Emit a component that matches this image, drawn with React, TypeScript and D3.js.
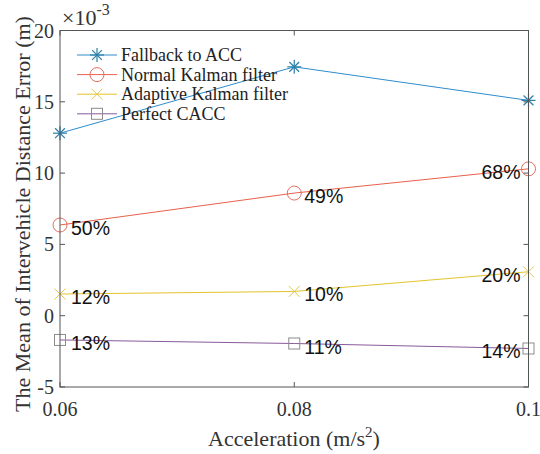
import React from "react";
import * as d3 from "d3";

const accel = [0.06, 0.08, 0.1];
const fallbackACC = [12.8, 17.45, 15.1];
const normalKF = [6.36, 8.6, 10.3];
const adaptiveKF = [1.52, 1.7, 3.08];
const perfectCACC = [-1.7, -1.95, -2.3];
const seriesNames = ["Fallback to ACC", "Normal Kalman filter", "Adaptive Kalman filter", "Perfect CACC"];
const seriesColors = ["#2f8ccc", "#e8604c", "#e3c42c", "#8a5a9a"];
const markerColors = ["#2a7fa8", "#e07060", "#e3c84a", "#8c8c8c"];
const markers = ["star", "circle", "x", "square"];
const improvementLabels = [
  ["50%", "49%", "68%"],
  ["12%", "10%", "20%"],
  ["13%", "11%", "14%"],
];
const xTicks = [0.06, 0.08, 0.1];
const xTickLabels = ["0.06", "0.08", "0.1"];
const yTicks = [-5, 0, 5, 10, 15, 20];

const W = 540, H = 454;
const m = { left: 60, right: 528.5, top: 30.5, bottom: 387 };

function Marker({ type, x, y, color }: { type: string; x: number; y: number; color: string }) {
  const s = 7;
  if (type === "star") {
    return (
      <g stroke={color} strokeWidth={1.2} fill="none">
        <line x1={x - s} y1={y} x2={x + s} y2={y} />
        <line x1={x} y1={y - s} x2={x} y2={y + s} />
        <line x1={x - s * 0.7} y1={y - s * 0.7} x2={x + s * 0.7} y2={y + s * 0.7} />
        <line x1={x - s * 0.7} y1={y + s * 0.7} x2={x + s * 0.7} y2={y - s * 0.7} />
      </g>
    );
  }
  if (type === "circle") return <circle cx={x} cy={y} r={7} stroke={color} strokeWidth={1} fill="none" />;
  if (type === "x") {
    const k = 5.5;
    return (
      <g stroke={color} strokeWidth={1} fill="none">
        <line x1={x - k} y1={y - k} x2={x + k} y2={y + k} />
        <line x1={x - k} y1={y + k} x2={x + k} y2={y - k} />
      </g>
    );
  }
  return <rect x={x - 5.5} y={y - 5.5} width={11} height={11} stroke={color} strokeWidth={1} fill="none" />;
}

export default function App() {
  const x = d3.scaleLinear().domain([0.06, 0.1]).range([m.left, m.right]);
  const y = d3.scaleLinear().domain([-5, 20]).range([m.bottom, m.top]);
  const all = [fallbackACC, normalKF, adaptiveKF, perfectCACC];
  const line = d3.line<number>().x((_, i) => x(accel[i])).y((d) => y(d));
  const tick = 5;
  const serif = "'Liberation Serif', 'Times New Roman', serif";
  const sans = "'Liberation Sans', Arial, sans-serif";

  return (
    <svg width={W} height={H} style={{ position: "absolute", left: 0, top: 0, background: "#fff" }}>
      <rect x={0} y={0} width={W} height={H} fill="#fff" />
      {all.map((s, si) => (
        <path key={si} d={line(s) || ""} fill="none" stroke={seriesColors[si]} strokeWidth={1} />
      ))}
      {all.map((s, si) =>
        s.map((v, i) => <Marker key={si + "-" + i} type={markers[si]} x={x(accel[i])} y={y(v)} color={markerColors[si]} />)
      )}
      {improvementLabels.map((row, ri) =>
        row.map((t, i) => {
          const v = all[ri + 1][i];
          const px = x(accel[i]);
          const isLast = i === accel.length - 1;
          const off = i === 0 ? 11 : 10;
          return (
            <text
              key={ri + "-" + i}
              x={isLast ? px - 8 : px + off}
              y={y(v) + 3}
              textAnchor={isLast ? "end" : "start"}
              dominantBaseline="central"
              fontFamily={sans}
              fontSize={19.5}
              fill="#111"
            >
              {t}
            </text>
          );
        })
      )}
      <rect x={m.left} y={m.top} width={m.right - m.left} height={m.bottom - m.top} fill="none" stroke="#555" strokeWidth={1} />
      {xTicks.map((t, i) => (
        <g key={"xt" + i}>
          <line x1={x(t)} x2={x(t)} y1={m.bottom} y2={m.bottom - tick} stroke="#555" />
          <line x1={x(t)} x2={x(t)} y1={m.top} y2={m.top + tick} stroke="#555" />
          <text x={x(t)} y={416} textAnchor="middle" fontFamily={serif} fontSize={20} fill="#333">
            {xTickLabels[i]}
          </text>
        </g>
      ))}
      {yTicks.map((t, i) => (
        <g key={"yt" + i}>
          <line x1={m.left} x2={m.left + tick} y1={y(t)} y2={y(t)} stroke="#555" />
          <line x1={m.right} x2={m.right - tick} y1={y(t)} y2={y(t)} stroke="#555" />
          <text x={54} y={y(t)} textAnchor="end" dominantBaseline="central" fontFamily={serif} fontSize={20} fill="#333">
            {t}
          </text>
        </g>
      ))}
      <text x={62} y={25} fontFamily={serif} fontSize={22} fill="#333">
        ×10<tspan dy={-10} fontSize={16}>-3</tspan>
      </text>
      <text x={294} y={446} textAnchor="middle" fontFamily={serif} fontSize={22} fill="#333">
        Acceleration (m/s<tspan dy={-9} fontSize={15}>2</tspan><tspan dy={9}>)</tspan>
      </text>
      <text
        transform={`translate(22,214) rotate(-90)`}
        textAnchor="middle"
        dominantBaseline="central"
        fontFamily={serif}
        fontSize={22}
        fill="#333"
      >
        The Mean of Intervehicle Distance Error (m)
      </text>
      {seriesNames.map((n, i) => {
        const ly = 55 + i * 19.6;
        return (
          <g key={"lg" + i}>
            <line x1={77} x2={117} y1={ly} y2={ly} stroke={seriesColors[i]} strokeWidth={1} />
            <Marker type={markers[i]} x={97} y={ly} color={markerColors[i]} />
            <text x={121} y={ly} dominantBaseline="central" fontFamily={serif} fontSize={18} fill="#222">
              {n}
            </text>
          </g>
        );
      })}
    </svg>
  );
}
